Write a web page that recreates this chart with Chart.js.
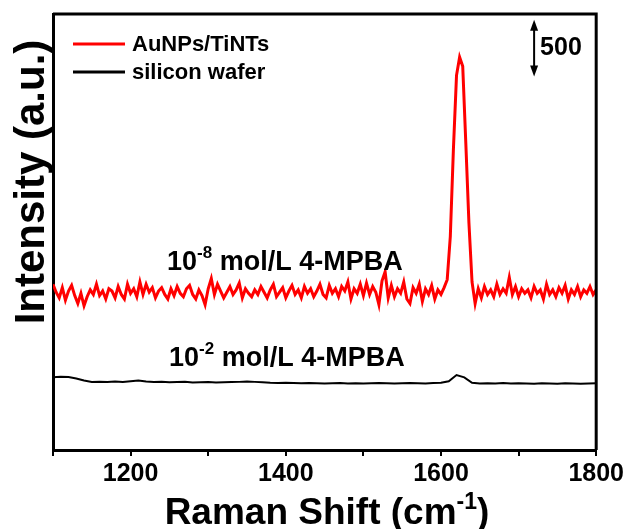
<!DOCTYPE html>
<html>
<head>
<meta charset="utf-8">
<script src="https://cdn.jsdelivr.net/npm/chart.js@4.4.1/dist/chart.umd.min.js"></script>
<style>
  html, body { margin: 0; padding: 0; background: #fff; }
</style>
</head>
<body>
<canvas id="chart" width="627" height="529"></canvas>
<script>
// AuNPs/TiNTs spectrum, sampled every 4 cm-1 from 1100
const redStart = 1100;
const redStep = 4;
const redY = [
  1460, 1390, 1340, 1430, 1320, 1400, 1450, 1360, 1290, 1380,
  1270, 1350, 1410, 1370, 1460, 1360, 1400, 1330, 1420, 1400,
  1340, 1440, 1370, 1330, 1460, 1380, 1420, 1350, 1480, 1370,
  1460, 1390, 1430, 1340, 1400, 1430, 1370, 1330, 1420, 1360,
  1440, 1380, 1350, 1420, 1450, 1370, 1330, 1410, 1360, 1280,
  1420, 1510, 1370, 1460, 1400, 1340, 1390, 1440, 1370, 1410,
  1470, 1340, 1420, 1380, 1350, 1410, 1370, 1440, 1390, 1340,
  1410, 1460, 1350, 1390, 1430, 1340, 1400, 1450, 1370, 1410,
  1340, 1440, 1380, 1420, 1350, 1400, 1460, 1370, 1340, 1450,
  1380, 1420, 1350, 1440, 1400, 1480, 1330, 1420, 1380, 1460,
  1360, 1470, 1370, 1440, 1390, 1280, 1490, 1570, 1340, 1450,
  1350, 1420, 1380, 1480, 1330, 1290, 1430, 1380, 1460, 1310,
  1420, 1370, 1450, 1330, 1410, 1370, 1430, 1500, 1880, 2650,
  3300, 3460, 3380, 2700, 2000, 1480, 1290, 1420, 1340, 1440,
  1370, 1410, 1350, 1460, 1370, 1420, 1380, 1520, 1370, 1440,
  1350, 1420, 1380, 1410, 1340, 1440, 1380, 1410, 1330, 1460,
  1370, 1410, 1350, 1430, 1380, 1450, 1330, 1410, 1370, 1440,
  1350, 1410, 1380, 1440, 1370, 1410
];

// silicon wafer spectrum, sampled every 10 cm-1 from 1100
const blackStart = 1100;
const blackStep = 10;
const blackY = [
  640, 645, 642, 630, 612, 600, 602, 598, 604, 600,
  606, 612, 604, 598, 600, 596, 598, 600, 594, 596,
  598, 594, 596, 598, 600, 604, 600, 596, 592, 590,
  592, 590, 588, 590, 588, 586, 588, 590, 586, 588,
  586, 588, 590, 588, 586, 588, 590, 588, 586, 590,
  592, 605, 660, 640, 592, 586, 588, 586, 590, 586,
  588, 586, 584, 588, 586, 584, 588, 586, 584, 586,
  588
];

const seriesNames = ["AuNPs/TiNTs", "silicon wafer"];
const seriesColors = ["#ff0000", "#000000"];
const xTicks = [1100, 1200, 1300, 1400, 1500, 1600, 1700, 1800];
const xLabelled = [1200, 1400, 1600, 1800];
const scaleBar = { x: 1720, from: 3290, to: 3790, label: "500" };

const FONT = '"Liberation Sans", Arial, sans-serif';

function toPoints(start, step, ys) {
  return ys.map((v, i) => ({ x: start + i * step, y: v }));
}

// text pieces drawn one after another, piece = [text, size, rise]
function pieceWidth(ctx, pieces) {
  let w = 0;
  pieces.forEach(([t, size]) => {
    ctx.font = `bold ${size}px ${FONT}`;
    w += ctx.measureText(t).width;
  });
  return w;
}

function drawPieces(ctx, x, y, pieces) {
  pieces.forEach(([t, size, rise]) => {
    ctx.font = `bold ${size}px ${FONT}`;
    ctx.fillText(t, x, y - rise);
    x += ctx.measureText(t).width;
  });
}

const decor = {
  id: "decor",
  afterDraw(chart) {
    const { ctx, chartArea: a, scales } = chart;
    ctx.save();
    ctx.fillStyle = "#000";
    ctx.strokeStyle = "#000";

    // top and right frame
    ctx.lineWidth = 3;
    ctx.beginPath();
    ctx.moveTo(a.left, a.top);
    ctx.lineTo(a.right, a.top);
    ctx.lineTo(a.right, a.bottom);
    ctx.stroke();

    // legend in the top left corner
    chart.data.datasets.forEach((ds, i) => {
      const ly = a.top + 30 + i * 28;
      ctx.strokeStyle = ds.borderColor;
      ctx.lineWidth = 3;
      ctx.beginPath();
      ctx.moveTo(a.left + 20, ly);
      ctx.lineTo(a.left + 72, ly);
      ctx.stroke();
      ctx.font = `bold 22px ${FONT}`;
      ctx.textBaseline = "middle";
      ctx.fillText(ds.label, a.left + 79, ly + 1);
    });

    // concentration labels
    ctx.textBaseline = "alphabetic";
    drawPieces(ctx, 167, 270, [["10", 27, 0], ["-8", 17, 12], [" mol/L 4-MPBA", 27, 0]]);
    drawPieces(ctx, 169, 366, [["10", 27, 0], ["-2", 17, 12], [" mol/L 4-MPBA", 27, 0]]);

    // 500 scale bar
    const bx = scales.x.getPixelForValue(scaleBar.x);
    const top = scales.y.getPixelForValue(scaleBar.to);
    const bot = scales.y.getPixelForValue(scaleBar.from);
    ctx.strokeStyle = "#000";
    ctx.lineWidth = 2;
    ctx.beginPath();
    ctx.moveTo(bx, top + 6);
    ctx.lineTo(bx, bot - 6);
    ctx.stroke();
    ctx.beginPath();
    ctx.moveTo(bx, top);
    ctx.lineTo(bx - 4, top + 11);
    ctx.lineTo(bx + 4, top + 11);
    ctx.closePath();
    ctx.fill();
    ctx.beginPath();
    ctx.moveTo(bx, bot);
    ctx.lineTo(bx - 4, bot - 11);
    ctx.lineTo(bx + 4, bot - 11);
    ctx.closePath();
    ctx.fill();
    ctx.font = `bold 25px ${FONT}`;
    ctx.textBaseline = "middle";
    ctx.textAlign = "left";
    ctx.fillText(scaleBar.label, bx + 6, (top + bot) / 2);

    // axis titles
    ctx.textBaseline = "alphabetic";
    const xt = [["Raman Shift (cm", 37, 0], ["-1", 23, 15], [")", 37, 0]];
    const w = pieceWidth(ctx, xt);
    drawPieces(ctx, 327 - w / 2, 524, xt);

    ctx.translate(44, 182);
    ctx.rotate(-Math.PI / 2);
    ctx.textAlign = "center";
    ctx.font = `bold 42px ${FONT}`;
    ctx.fillText("Intensity (a.u.)", 0, 0);
    ctx.restore();
  }
};

new Chart(document.getElementById("chart"), {
  type: "line",
  data: {
    datasets: [
      {
        label: seriesNames[0],
        data: toPoints(redStart, redStep, redY),
        borderColor: seriesColors[0],
        borderWidth: 3,
        pointRadius: 0,
        tension: 0
      },
      {
        label: seriesNames[1],
        data: toPoints(blackStart, blackStep, blackY),
        borderColor: seriesColors[1],
        borderWidth: 2,
        pointRadius: 0,
        tension: 0
      }
    ]
  },
  options: {
    responsive: false,
    animation: false,
    events: [],
    layout: { padding: { left: 53, top: 14, right: 30, bottom: 37 } },
    plugins: {
      legend: { display: false },
      tooltip: { enabled: false }
    },
    scales: {
      x: {
        type: "linear",
        min: 1100,
        max: 1800,
        afterBuildTicks: (axis) => { axis.ticks = xTicks.map(v => ({ value: v })); },
        grid: { display: true, drawOnChartArea: false, drawTicks: true, tickLength: 6, color: "#000", lineWidth: 2 },
        border: { display: true, width: 3, color: "#000" },
        ticks: {
          autoSkip: false,
          maxRotation: 0,
          color: "#000",
          font: { family: FONT, size: 25, weight: "bold" },
          callback: (v) => xLabelled.includes(v) ? String(v) : ""
        }
      },
      y: {
        min: 0,
        max: 3840,
        grid: { display: false, drawTicks: false },
        border: { display: true, width: 3, color: "#000" },
        ticks: { display: false }
      }
    }
  },
  plugins: [decor]
});
</script>
</body>
</html>
